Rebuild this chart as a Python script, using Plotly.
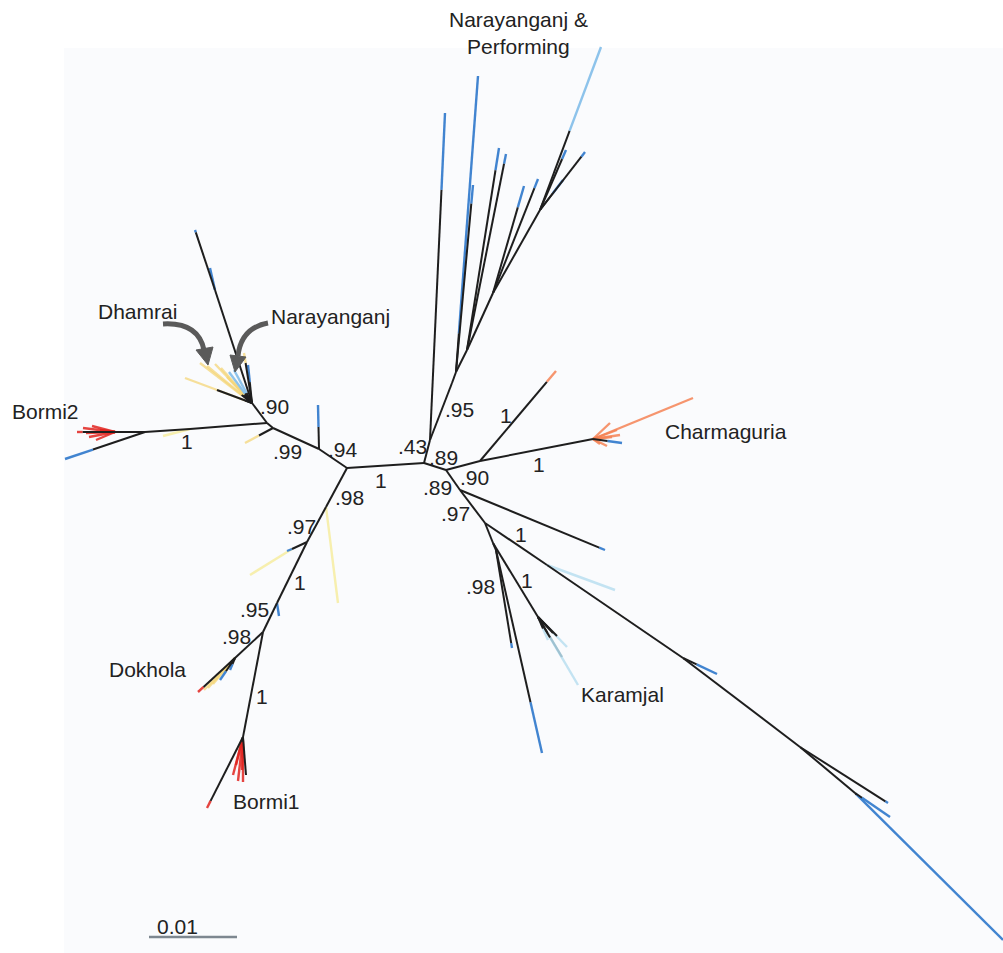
import plotly.graph_objects as go

# ---------------- tree data (node positions in layout space, px) ----------------
node_id = ["C1", "C2", "N43", "N95", "Na", "Nb", "Nc", "Nd",
           "N89", "N90R", "NCh", "NX", "N97", "LB", "LA", "LC", "LD", "NK", "NK98", "NKar",
           "N94", "N99", "NB2j", "NB2y", "NB2", "NB2r", "N90L", "NLg",
           "N98", "N97L", "NY", "NBl", "N95L", "NDk", "NBo",
           # leaves
           "L1", "LA1", "LA2", "LB1", "LB2", "LC1", "LC2", "LD1", "LD2", "LD3", "LD4",
           "LR1", "CH1", "CH2", "CH3", "CH4", "CH5", "CH6", "CH7", "CH8",
           "LX1", "LBp", "LAb", "LCb", "LDb1", "LDb2", "K98a", "K98b",
           "KA1", "KA2", "KA3", "KA4", "KA5", "KA6",
           "LN94", "LN99", "LB2y", "B2b", "B2k", "B2r1", "B2r2", "B2r3", "B2r4", "B2r5", "B2r6",
           "DL", "DLb", "DY1", "DY2", "DY3", "DY4", "DY5", "DY6", "DK1", "DB1", "DB2", "DN1", "DN2",
           "DKa", "DKy1", "DKy2", "DKy3", "DKb1", "DKb2",
           "BOk", "BOr1", "BOr2", "BOr3", "BOr4", "BOr5", "BOr6",
           "LN98", "LY", "LYb", "LBl"]
node_x = [347, 424, 430, 452, 456, 467, 493, 540,
          446, 480, 593, 460, 485, 547, 683, 800, 855, 493, 496, 538,
          319, 273, 267, 190, 145, 115, 252, 215,
          326, 307, 292, 277, 263, 235, 243,
          445, 478, 473, 499, 506, 524, 538, 601, 566, 585, 563,
          556, 693, 610, 617, 620, 612, 600, 607, 622,
          605, 615, 717, 888, 890, 1003, 512, 542,
          553, 557, 567, 562, 578, 548,
          318, 245, 163, 65, 77, 83, 86, 89, 92, 96, 100,
          195, 210, 200, 207, 215, 221, 185, 227, 217, 229, 234, 244, 248,
          198, 208, 213, 204, 220, 230,
          207, 233, 238, 243, 242, 236, 246,
          338, 250, 287, 279]
node_y = [468, 463, 440, 383, 372, 350, 293, 210,
          470, 461, 439, 490, 523, 565, 658, 747, 793, 543, 550, 617,
          449, 428, 423, 429, 432, 432, 403, 290,
          507, 542, 549, 603, 632, 658, 737,
          113, 76, 185, 148, 154, 186, 179, 47, 150, 152, 180,
          371, 398, 423, 430, 435, 437, 444, 446, 443,
          550, 590, 674, 803, 817, 940, 648, 753,
          633, 636, 647, 657, 685, 640,
          405, 443, 436, 459, 432, 428, 433, 437, 426, 440, 430,
          230, 268, 363, 366, 364, 368, 378, 377, 390, 372, 370, 353, 365,
          692, 688, 684, 690, 680, 670,
          808, 775, 781, 782, 770, 765, 775,
          603, 575, 551, 616]

# edges: parent, child, sampling location of the tip, coloured fraction of the branch
edge_from = ["C1", "C2", "N43", "N95", "Na", "Nb", "Nc",
             "C2", "N89", "N90R", "N89", "NX", "N97", "LB", "LA", "LC", "N97", "NK", "NK",
             "C1", "N94", "N99", "NB2j", "NB2y", "NB2", "NB2j", "N90L",
             "C1", "N98", "N97L", "N97L", "NBl", "N95L", "N95L",
             "N43", "Na", "Na", "Nb", "Nb", "Nc", "Nc", "Nd", "Nd", "Nd", "Nd",
             "N90R", "NCh", "NCh", "NCh", "NCh", "NCh", "NCh", "NCh", "NCh",
             "NX", "LB", "LA", "LC", "LD", "LD", "NK98", "NK98",
             "NKar", "NKar", "NKar", "NKar", "NKar", "NKar",
             "N94", "N99", "NB2y", "NB2", "NB2r", "NB2r", "NB2r", "NB2r", "NB2r", "NB2r", "NB2r",
             "NLg", "NLg", "N90L", "N90L", "N90L", "N90L", "N90L", "N90L", "N90L", "N90L", "N90L", "N90L", "N90L",
             "NDk", "NDk", "NDk", "NDk", "NDk", "NDk",
             "NBo", "NBo", "NBo", "NBo", "NBo", "NBo", "NBo",
             "N98", "NY", "NY", "NBl"]
edge_to = ["C2", "N43", "N95", "Na", "Nb", "Nc", "Nd",
           "N89", "N90R", "NCh", "NX", "N97", "LB", "LA", "LC", "LD", "NK", "NK98", "NKar",
           "N94", "N99", "NB2j", "NB2y", "NB2", "NB2r", "N90L", "NLg",
           "N98", "N97L", "NY", "NBl", "N95L", "NDk", "NBo",
           "L1", "LA1", "LA2", "LB1", "LB2", "LC1", "LC2", "LD1", "LD2", "LD3", "LD4",
           "LR1", "CH1", "CH2", "CH3", "CH4", "CH5", "CH6", "CH7", "CH8",
           "LX1", "LBp", "LAb", "LCb", "LDb1", "LDb2", "K98a", "K98b",
           "KA1", "KA2", "KA3", "KA4", "KA5", "KA6",
           "LN94", "LN99", "LB2y", "B2b", "B2k", "B2r1", "B2r2", "B2r3", "B2r4", "B2r5", "B2r6",
           "DL", "DLb", "DY1", "DY2", "DY3", "DY4", "DY5", "DY6", "DK1", "DB1", "DB2", "DN1", "DN2",
           "DKa", "DKy1", "DKy2", "DKy3", "DKb1", "DKb2",
           "BOk", "BOr1", "BOr2", "BOr3", "BOr4", "BOr5", "BOr6",
           "LN98", "LY", "LYb", "LBl"]
n_internal = 34
edge_loc = [""] * n_internal + [
    "NAR", "NAR", "NAR", "NAR", "NAR", "NAR", "NAR", "PER", "NAR", "NAR", "NAR",
    "CHA", "CHA", "CHA", "CHA", "CHA", "CHA", "CHA", "CHA", "NAR",
    "NAR", "KAR", "NAR", "NAR", "NAR", "NAR", "NAR", "NAR",
    "", "", "KAR", "KAR2", "KAR", "KAR",
    "NAR", "DHA", "DHA2", "NAR", "BOR", "BOR", "BOR", "BOR", "BOR", "BOR", "BOR",
    "NAR", "NAR", "DHA", "DHA", "DHA", "DHA", "DHA", "DHA", "", "PER", "PER", "DHA", "NAR",
    "BOR", "DHA", "DHA", "DHA", "NAR", "NAR",
    "BOR", "BOR", "BOR", "BOR", "BOR", "BOR", "",
    "DHA2", "DHA2", "NAR", "NAR"]
edge_tip = [0.0] * n_internal + [
    0.235, 0.87, 0.10, 0.11, 0.05, 0.20, 0.08, 0.515, 0.15, 0.08, 0.45,
    0.12, 1.0, 1.0, 1.0, 1.0, 1.0, 1.0, 1.0, 0.5,
    0.04, 1.0, 0.6, 0.03, 0.8, 0.99, 0.05, 0.25,
    0.0, 0.0, 0.6, 0.6, 0.7, 0.5,
    0.5, 0.5, 1.0, 0.35, 0.15, 1.0, 1.0, 1.0, 1.0, 1.0, 1.0,
    0.04, 1.0, 0.8, 0.8, 0.8, 0.8, 0.9, 0.7, 0.0, 0.7, 0.7, 0.2, 0.45,
    0.15, 1.0, 1.0, 0.8, 0.4, 0.5,
    0.1, 0.9, 0.9, 0.9, 0.9, 0.9, 0.0,
    1.0, 1.0, 1.0, 1.0]

# support values
support_text = [".90", ".99", ".94", "1", ".43", ".89", "1", ".98", ".97", "1", ".95", ".98", "1",
                ".95", "1", ".90", "1", ".89", ".97", "1", ".98", "1"]
support_x = [274, 287, 343, 187, 412, 443, 381, 349, 301, 300, 254, 236, 262,
             459, 506, 474, 539, 437, 455, 521, 480, 527]
support_y = [406, 451, 449, 441, 446, 457, 480, 497, 526, 582, 609, 636, 696,
             409, 415, 477, 464, 487, 513, 534, 586, 580]

# clade names
clade_text = ["Narayanganj &", "Performing", "Dhamrai", "Narayanganj", "Bormi2", "Dokhola",
              "Bormi1", "Karamjal", "Charmaguria"]
clade_x = [518, 518, 137, 330, 45, 147, 266, 622, 726]
clade_y = [19, 46, 311, 316, 411, 669, 801, 694, 431]

scale_value = 0.01
px_per_unit = 8800

# ---------------- styles ----------------
loc_color = {
    "NAR": "rgba(55,125,205,0.95)",
    "PER": "rgba(135,192,234,0.95)",
    "BOR": "rgba(225,35,30,0.85)",
    "CHA": "rgba(244,130,85,0.85)",
    "DHA": "rgba(244,214,120,0.75)",
    "DHA2": "rgba(246,236,160,0.85)",
    "KAR": "rgba(185,222,240,0.85)",
    "KAR2": "rgba(150,185,200,0.8)",
}
BLACK = "#1e1e1e"

pos = {n: (x, y) for n, x, y in zip(node_id, node_x, node_y)}

segs = {}
for a, b, loc, f in zip(edge_from, edge_to, edge_loc, edge_tip):
    x0, y0 = pos[a]
    x1, y1 = pos[b]
    xm = x0 + (x1 - x0) * (1 - f)
    ym = y0 + (y1 - y0) * (1 - f)
    if f < 1:
        segs.setdefault("", ([], []))
        segs[""][0].extend([x0, xm, None])
        segs[""][1].extend([y0, ym, None])
    if f > 0:
        segs.setdefault(loc, ([], []))
        segs[loc][0].extend([xm, x1, None])
        segs[loc][1].extend([ym, y1, None])

fig = go.Figure()

order = ["DHA2", "DHA", "KAR", "KAR2", "PER", "CHA", "BOR", "NAR"]
for loc in order:
    if loc in segs:
        fig.add_trace(go.Scatter(x=segs[loc][0], y=segs[loc][1], mode="lines",
                                 line=dict(color=loc_color[loc], width=2.4),
                                 hoverinfo="skip", showlegend=False))
fig.add_trace(go.Scatter(x=segs[""][0], y=segs[""][1], mode="lines",
                         line=dict(color=BLACK, width=2.0),
                         hoverinfo="skip", showlegend=False))

# scale bar
sb_x0 = 149
fig.add_trace(go.Scatter(x=[sb_x0, sb_x0 + scale_value * px_per_unit], y=[937, 937],
                         mode="lines", line=dict(color="#7d8790", width=2.4),
                         hoverinfo="skip", showlegend=False))

font = dict(family="Liberation Sans, Arial, sans-serif", size=21, color="#222222")
annotations = []
for t, x, y in zip(support_text, support_x, support_y):
    annotations.append(dict(x=x, y=y, text=t, showarrow=False, xanchor="center",
                            yanchor="middle", font=font))
for t, x, y in zip(clade_text, clade_x, clade_y):
    annotations.append(dict(x=x, y=y, text=t, showarrow=False, xanchor="center",
                            yanchor="middle", font=font))
annotations.append(dict(x=177, y=926, text=f"{scale_value:.2f}", showarrow=False,
                        xanchor="center", yanchor="middle", font=font))

ARROW = "#5a5a5a"
shapes = [
    dict(type="rect", xref="x", yref="y", x0=64, x1=1003, y0=48, y1=953,
         fillcolor="#fafbfd", line=dict(width=0), layer="below"),
    dict(type="path", xref="x", yref="y", path="M 163,324 Q 198,322 204,350",
         line=dict(color=ARROW, width=5)),
    dict(type="path", xref="x", yref="y", path="M 196,350 L 213,347 L 208,365 Z",
         fillcolor=ARROW, line=dict(color=ARROW, width=1)),
    dict(type="path", xref="x", yref="y", path="M 268,323 Q 241,328 238,356",
         line=dict(color=ARROW, width=5)),
    dict(type="path", xref="x", yref="y", path="M 230,355 L 246,357 L 235,372 Z",
         fillcolor=ARROW, line=dict(color=ARROW, width=1)),
]

fig.update_layout(
    width=1003, height=953,
    margin=dict(l=0, r=0, t=0, b=0),
    paper_bgcolor="white", plot_bgcolor="white",
    xaxis=dict(range=[0, 1003], visible=False, fixedrange=True),
    yaxis=dict(range=[953, 0], visible=False, fixedrange=True),
    annotations=annotations, shapes=shapes, showlegend=False,
)

fig.write_html("out.html", config={"displayModeBar": False},
               post_script="document.body.style.margin='0';document.body.style.overflow='hidden';")
